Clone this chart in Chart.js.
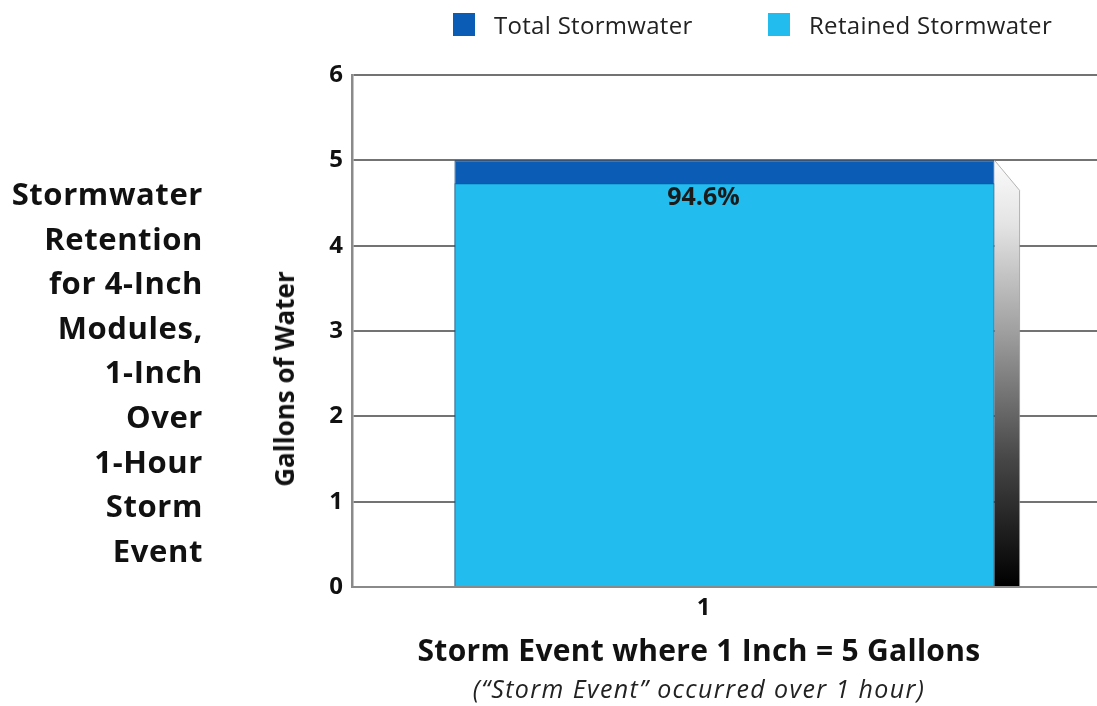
<!DOCTYPE html>
<html>
<head>
<meta charset="utf-8">
<script src="https://cdn.jsdelivr.net/npm/chart.js@4"></script>
<style>
  html, body { margin: 0; padding: 0; background: #ffffff; }
  #wrap { position: relative; width: 1097px; height: 706px; overflow: hidden; font-family: "Open Sans", sans-serif; color: #111; }
  #chart { position: absolute; left: 0; top: 0; }
  #sideTitle {
    position: absolute; left: 0; top: 171px; width: 203px;
    text-align: right; font-weight: 700; font-size: 31px; line-height: 44.6px; letter-spacing: 0.6px;
  }
  #legend { position: absolute; top: 0; left: 0; height: 44px; }
  .item { position: absolute; top: 8px; display: flex; align-items: center; font-size: 24px; letter-spacing: 0.3px; color: #222; white-space: nowrap; }
  .swatch { width: 22px; height: 23px; margin-right: 19px; }
  .xtitle { position: absolute; left: 199px; width: 1000px; text-align: center; white-space: nowrap; }
  #xTitle { top: 630px; font-size: 30px; font-weight: 700; letter-spacing: 0.3px; line-height: 40px; }
  #xSub { top: 671px; font-size: 25px; font-style: italic; letter-spacing: 1.4px; line-height: 34px; color: #222; }
  #yTitle {
    position: absolute; left: 284px; top: 379px; white-space: nowrap;
    font-size: 26px; font-weight: 700; line-height: 30px;
    transform: translate(-50%, -50%) rotate(-90deg);
  }
</style>
</head>
<body>
<div id="wrap">
  <canvas id="chart" width="1097" height="706"></canvas>
  <div id="sideTitle">Stormwater<br>Retention<br>for 4-Inch<br>Modules,<br>1-Inch<br>Over<br>1-Hour<br>Storm<br>Event</div>
  <div id="legend"></div>
  <div id="yTitle">Gallons of Water</div>
  <div id="xTitle" class="xtitle">Storm Event where 1 Inch = 5 Gallons</div>
  <div id="xSub" class="xtitle">(“Storm Event” occurred over 1 hour)</div>
</div>
<script>
// Storm event categories and measured volumes (gallons)
const categories = ['1'];
const totalStormwater = [5];
const retainedStormwater = [4.73];
const yTickValues = [0, 1, 2, 3, 4, 5, 6];

const seriesNames = ['Total Stormwater', 'Retained Stormwater'];
const seriesColors = ['#0a5cb4', '#22bdee'];

// Side face of the bar, drawn to the right of the tallest bar
const sideFacePlugin = {
  id: 'sideFace',
  afterDatasetsDraw(chart) {
    const meta = chart.getDatasetMeta(0);
    const ctx = chart.ctx;
    meta.data.forEach(bar => {
      const right = bar.x + bar.width / 2;
      const top = bar.y;
      const base = bar.base;
      const depthX = 25, depthY = 30;
      const g = ctx.createLinearGradient(0, top, 0, base);
      g.addColorStop(0, '#fbfbfb');
      g.addColorStop(0.15, '#e4e4e4');
      g.addColorStop(0.4, '#a0a0a0');
      g.addColorStop(0.7, '#474747');
      g.addColorStop(1, '#000000');
      ctx.save();
      ctx.beginPath();
      ctx.moveTo(right, top);
      ctx.lineTo(right + depthX, top + depthY);
      ctx.lineTo(right + depthX, base);
      ctx.lineTo(right, base);
      ctx.closePath();
      ctx.fillStyle = g;
      ctx.fill();
      ctx.beginPath();
      ctx.moveTo(right, top);
      ctx.lineTo(right + depthX, top + depthY);
      ctx.lineTo(right + depthX, base);
      ctx.strokeStyle = 'rgba(150,150,150,0.7)';
      ctx.lineWidth = 1;
      ctx.stroke();
      ctx.restore();
    });
  }
};

// Retained share printed just under the top of the retained bar
const shareLabelPlugin = {
  id: 'shareLabel',
  afterDatasetsDraw(chart) {
    const meta = chart.getDatasetMeta(1);
    const ctx = chart.ctx;
    meta.data.forEach((bar, i) => {
      const share = (retainedStormwater[i] / totalStormwater[i] * 100).toFixed(1) + '%';
      ctx.save();
      ctx.font = '700 25px "Open Sans", sans-serif';
      ctx.fillStyle = '#1a1a1a';
      ctx.textAlign = 'center';
      ctx.textBaseline = 'middle';
      ctx.fillText(share, bar.x - 21, bar.y + 15);
      ctx.restore();
    });
  }
};

const chart = new Chart(document.getElementById('chart'), {
  type: 'bar',
  data: {
    labels: categories,
    datasets: [
      {
        label: seriesNames[0],
        data: totalStormwater,
        backgroundColor: seriesColors[0],
        borderColor: '#0b3f7a',
        borderWidth: 1,
        grouped: false,
        order: 2,
        barPercentage: 0.725,
        categoryPercentage: 1
      },
      {
        label: seriesNames[1],
        data: retainedStormwater,
        backgroundColor: seriesColors[1],
        borderColor: '#11617e',
        borderWidth: 1,
        grouped: false,
        order: 1,
        barPercentage: 0.725,
        categoryPercentage: 1
      }
    ]
  },
  options: {
    responsive: false,
    animation: false,
    layout: { padding: { left: 262, right: 0, top: 75, bottom: 0 } },
    plugins: {
      legend: { display: false },
      tooltip: { enabled: false }
    },
    scales: {
      x: {
        afterFit(scale) { scale.height = 119; },
        grid: { display: false, drawTicks: false },
        border: { display: true, color: '#8a8a8a', width: 2 },
        ticks: {
          color: '#111',
          padding: 7,
          labelOffset: -21,
          font: { family: '"Open Sans", sans-serif', size: 24, weight: '700' }
        }
      },
      y: {
        min: 0,
        max: 6,
        z: 1,
        afterFit(scale) { scale.width = 90; },
        afterBuildTicks(scale) { scale.ticks = yTickValues.map(v => ({ value: v })); },
        grid: { color: 'rgba(0,0,0,0.55)', lineWidth: 2, drawTicks: false },
        border: { display: true, color: '#8a8a8a', width: 2.5 },
        ticks: {
          color: '#111',
          padding: 9,
          font: { family: '"Open Sans", sans-serif', size: 24, weight: '700' }
        }
      }
    }
  },
  plugins: [sideFacePlugin, shareLabelPlugin]
});

// Legend built from the dataset names and colours
const legendEl = document.getElementById('legend');
const legendX = [453, 768];
chart.data.datasets.forEach((ds, i) => {
  const item = document.createElement('div');
  item.className = 'item';
  item.style.left = legendX[i] + 'px';
  const sw = document.createElement('span');
  sw.className = 'swatch';
  sw.style.background = ds.backgroundColor;
  const tx = document.createElement('span');
  tx.textContent = ds.label;
  item.appendChild(sw);
  item.appendChild(tx);
  legendEl.appendChild(item);
});
</script>
</body>
</html>
